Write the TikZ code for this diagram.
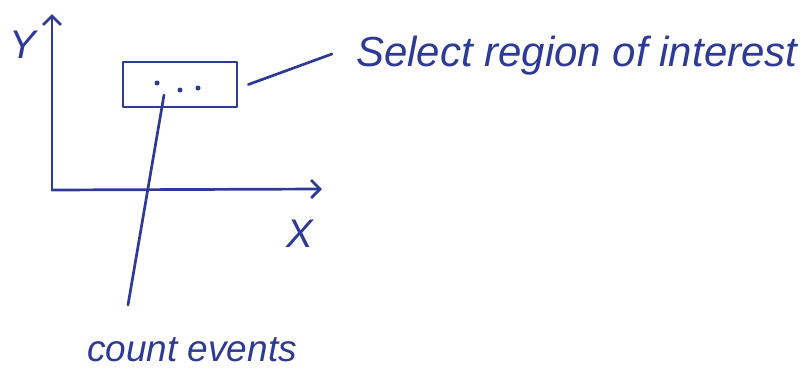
\documentclass[tikz,border=0pt]{standalone}
\usepackage{fontspec}
\setmainfont{Liberation Sans}
\usetikzlibrary{arrows.meta}
\definecolor{ink}{RGB}{45,58,150}
\tikzset{
  pen/.style={draw=ink, line width=2.7pt, line cap=round, line join=round},
  hand/.style={text=ink, font=\fontsize{#1}{#1}\selectfont\itshape, inner sep=0pt},
  axislbl/.style={text=ink, font=\fontsize{40}{44}\selectfont\itshape, inner sep=0pt},
  evt/.style={circle, fill=ink, inner sep=0pt, minimum size=5pt},
  tip/.style={-{Straight Barb[length=9pt,width=18pt,line width=2.7pt]}}
}
\begin{document}
\begin{tikzpicture}[x=1pt,y=-1pt]
\useasboundingbox (0,0) rectangle (807,383);
% axes
\coordinate (O) at (52,190);
\coordinate (ytop) at (52,14);
\coordinate (xend) at (322,189);
\draw[pen,tip] (O) -- (ytop);
\draw[pen,tip] (O) -- (xend);
\node[axislbl] (ylab) at (23,45) {Y};
\node[axislbl] (xlab) at (300,234) {X};
% region of interest
\node[pen, minimum width=114pt, minimum height=45pt, inner sep=0pt] (roi) at (180,84.5) {};
\node[evt] (e1) at (157,83) {};
\node[evt] (e2) at (180,90) {};
\node[evt] (e3) at (198,88) {};
% labels
\node[hand=42, anchor=west] (sel) at (356,56) {Select region of interest};
\node[hand=37, anchor=north] (cnt) at (192,337) {count events};
% connectors
\draw[pen] ([xshift=10pt]roi.east) -- ([xshift=-24pt,yshift=2pt]sel.west);
\draw[pen] ([xshift=-16pt,yshift=-5pt]e2.center) -- ([xshift=-64pt,yshift=32pt]cnt.north);
\end{tikzpicture}
\end{document}
